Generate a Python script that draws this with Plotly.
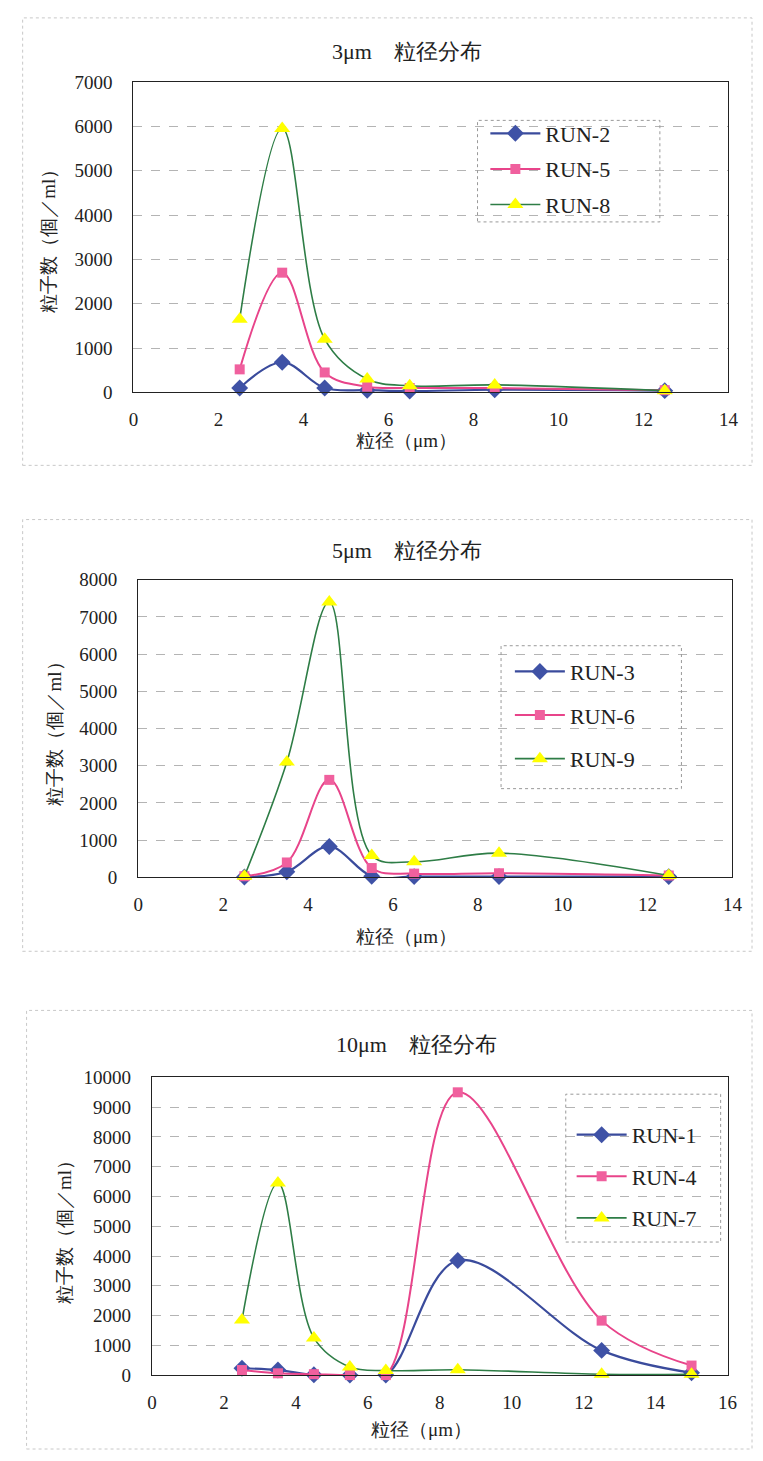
import plotly.graph_objects as go

# ---- data ----
x_sizes = [2.5, 3.5, 4.5, 5.5, 6.5, 8.5, 12.5]
x_sizes_10 = [2.5, 3.5, 4.5, 5.5, 6.5, 8.5, 12.5, 15]

run2 = [100, 680, 100, 50, 30, 60, 40]
run5 = [520, 2700, 450, 130, 100, 100, 50]
run8 = [1650, 5950, 1200, 300, 150, 170, 40]

run3 = [10, 150, 830, 30, 20, 20, 20]
run6 = [30, 400, 2620, 250, 100, 110, 50]
run9 = [30, 3100, 7400, 590, 420, 650, 50]

run1 = [230, 170, 10, 0, 0, 3850, 830, 80]
run4 = [170, 60, 30, 0, 0, 9500, 1830, 320]
run7 = [1850, 6450, 1250, 270, 150, 180, 30, 30]

titles = ["3\u03bcm\u3000粒径分布", "5\u03bcm\u3000粒径分布", "10\u03bcm\u3000粒径分布"]
x_title = "粒径（\u03bcm）"
y_title = "粒子数（個／ml）"

W, H = 763, 1461
FONT = "Liberation Serif, Times New Roman, DejaVu Serif, serif"

BLUE_LINE, BLUE_MK = "#3a4b9c", "#3f52a6"
PINK_LINE, PINK_MK = "#e8448a", "#f0609e"
GREEN_LINE, YELLOW_MK = "#2e7d46", "#ffff00"


def px_x(v):
    return v / W


def px_y(v):
    return 1 - v / H


fig = go.Figure()

series_sets = [
    (x_sizes, [("RUN-2", run2), ("RUN-5", run5), ("RUN-8", run8)], "x", "y", "legend"),
    (x_sizes, [("RUN-3", run3), ("RUN-6", run6), ("RUN-9", run9)], "x2", "y2", "legend2"),
    (x_sizes_10, [("RUN-1", run1), ("RUN-4", run4), ("RUN-7", run7)], "x3", "y3", "legend3"),
]
styles = [
    dict(line=dict(color=BLUE_LINE, width=2.2), marker=dict(symbol="diamond", size=13, color=BLUE_MK)),
    dict(line=dict(color=PINK_LINE, width=2.0), marker=dict(symbol="square", size=10, color=PINK_MK)),
    dict(line=dict(color=GREEN_LINE, width=1.6), marker=dict(symbol="triangle-up", size=14, color=YELLOW_MK)),
]

for xs, runs, xa, ya, lg in series_sets:
    for (name, vals), st in zip(runs, styles):
        fig.add_trace(go.Scatter(
            x=xs, y=vals, name=name, mode="lines+markers",
            line=dict(shape="spline", smoothing=1.0, **st["line"]),
            marker=st["marker"], xaxis=xa, yaxis=ya, legend=lg,
            legendgroup=name, cliponaxis=False,
        ))

# plot-area geometry in pixels: (left, right, top, bottom)
areas = [(131, 738, 73, 388), (136, 742, 578, 880), (150, 737, 1083, 1385)]
x_ranges = [[0, 14], [0, 14], [0, 16]]
y_ranges = [[0, 7000], [0, 8000], [0, 10000]]

axis_common = dict(
    showline=True, linecolor="#222", linewidth=1.4, mirror=True,
    zeroline=False, ticks="", tickfont=dict(family=FONT, size=19, color="#222"),
)

layout = {}
for i, ((l, r, t, b), xr, yr) in enumerate(zip(areas, x_ranges, y_ranges)):
    sfx = "" if i == 0 else str(i + 1)
    layout["xaxis" + sfx] = dict(
        domain=[px_x(l), px_x(r)], range=xr, dtick=2, showgrid=False,
        anchor="y" + sfx, ticklabelstandoff=10, **axis_common)
    layout["yaxis" + sfx] = dict(
        domain=[px_y(b), px_y(t)], range=yr, dtick=1000, showgrid=True,
        gridcolor="#b4b4b4", griddash="dash", gridwidth=1, tickformat="d",
        anchor="x" + sfx, ticklabelstandoff=16, **axis_common)

fig.update_layout(**layout)

# legends, one per panel: (left px, top px, gap between entries)
legend_cfg = [("legend", 490, 104, 4), ("legend2", 515, 650, 12), ("legend3", 578, 1120, 10)]
for key, lx, ly, gap in legend_cfg:
    fig.update_layout(**{key: dict(
        x=px_x(lx), y=px_y(ly), xanchor="left", yanchor="top",
        bgcolor="rgba(255,255,255,0)", borderwidth=0,
        font=dict(family=FONT, size=22, color="#222"),
        itemwidth=50, tracegroupgap=gap, traceorder="grouped",
    )})

annotations = []
title_pos = [(410, 42), (410, 548), (420, 1050)]
xt_pos = [(410, 437), (410, 940), (425, 1440)]
yt_pos = [(45, 230), (50, 730), (60, 1235)]


def label(txt, x, y, size, angle=0):
    return dict(text=txt, x=px_x(x), y=px_y(y), xref="paper", yref="paper",
                xanchor="center", yanchor="middle", showarrow=False,
                textangle=angle, font=dict(family=FONT, size=size, color="#222"))


for txt, (tx, ty), (ax_, ay_), (bx, by) in zip(titles, title_pos, xt_pos, yt_pos):
    annotations.append(label(txt, tx, ty, 22))
    annotations.append(label(x_title, ax_, ay_, 19))
    annotations.append(label(y_title, bx, by, 19, -90))

shapes = []
# dotted legend frames
for (x0, y0, x1, y1) in [(482, 112, 668, 215), (506, 645, 690, 790), (572, 1100, 730, 1250)]:
    shapes.append(dict(type="rect", xref="paper", yref="paper",
                       x0=px_x(x0), x1=px_x(x1), y0=px_y(y1), y1=px_y(y0),
                       line=dict(color="#999", width=1, dash="dot")))
# faint chart-area frames
for (x0, y0, x1, y1) in [(18, 8, 762, 462), (18, 517, 762, 955), (22, 1015, 762, 1460)]:
    shapes.append(dict(type="rect", xref="paper", yref="paper",
                       x0=px_x(x0), x1=px_x(x1), y0=px_y(y1), y1=px_y(y0),
                       line=dict(color="#c8c8c8", width=1, dash="dot")))

fig.update_layout(
    width=W, height=H, margin=dict(l=0, r=0, t=0, b=0),
    paper_bgcolor="white", plot_bgcolor="white",
    annotations=annotations, shapes=shapes, showlegend=True,
)

fig.write_html("out.html")
